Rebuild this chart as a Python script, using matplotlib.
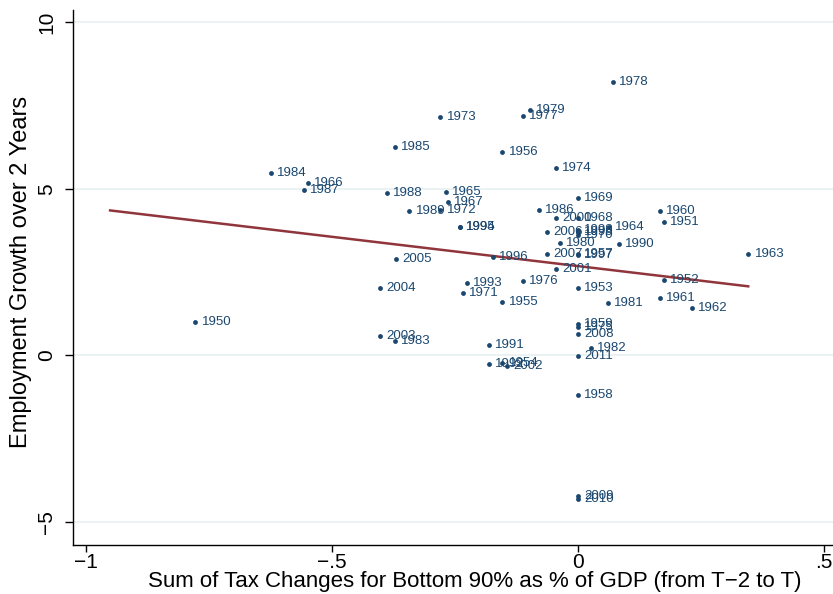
import matplotlib
matplotlib.use("Agg")
import matplotlib.pyplot as plt

# ----- data -----
years = [1950, 1951, 1952, 1953, 1954, 1955, 1956, 1957, 1958, 1959,
         1960, 1961, 1962, 1963, 1964, 1965, 1966, 1967, 1968, 1969,
         1970, 1971, 1972, 1973, 1974, 1975, 1976, 1977, 1978, 1979,
         1980, 1981, 1982, 1983, 1984, 1985, 1986, 1987, 1988, 1989,
         1990, 1991, 1992, 1993, 1994, 1995, 1996, 1997, 1998, 1999,
         2000, 2001, 2002, 2003, 2004, 2005, 2006, 2007, 2008, 2009,
         2010, 2011]

tax_change = [-0.778, 0.175, 0.175, 0.0, -0.154, -0.154, -0.154, 0.0, 0.0, 0.0,
              0.167, 0.167, 0.232, 0.346, 0.063, -0.268, -0.549, -0.264, 0.0, 0.0,
              0.0, -0.234, -0.280, -0.280, -0.045, 0.0, -0.112, -0.112, 0.071, -0.098,
              -0.037, 0.061, 0.026, -0.372, -0.624, -0.372, -0.079, -0.557, -0.388, -0.343,
              0.083, -0.181, -0.181, -0.226, -0.240, -0.240, -0.173, 0.0, 0.0, 0.0,
              -0.045, -0.045, -0.144, -0.402, -0.402, -0.370, -0.063, -0.063, 0.0, 0.0,
              0.0, 0.0]

emp_growth = [0.99, 4.00, 2.25, 2.01, -0.24, 1.59, 6.10, 3.05, -1.20, 0.93,
              4.32, 1.71, 1.41, 3.03, 3.84, 4.89, 5.17, 4.59, 4.11, 4.71,
              3.60, 1.86, 4.35, 7.15, 5.62, 0.85, 2.22, 7.18, 8.20, 7.36,
              3.36, 1.56, 0.21, 0.42, 5.47, 6.25, 4.35, 4.95, 4.86, 4.32,
              3.33, 0.30, -0.27, 2.16, 3.86, 3.84, 2.94, 3.00, 3.76, 3.70,
              4.11, 2.58, -0.33, 0.57, 2.01, 2.88, 3.69, 3.03, 0.63, -4.23,
              -4.32, -0.03]

# fitted line end points
fit_x = [-0.951, 0.346]
fit_y = [4.35, 2.07]

x_ticks = [-1, -0.5, 0, 0.5]
x_tick_labels = ["\u22121", "\u2212.5", "0", ".5"]
y_ticks = [-5, 0, 5, 10]
y_tick_labels = ["\u22125", "0", "5", "10"]

NAVY = "#1a476f"
MAROON = "#90353b"
GRID = "#eaf2f3"

plt.rcParams["font.family"] = ["Liberation Sans", "DejaVu Sans"]

fig = plt.figure(figsize=(8.33, 5.94), dpi=100)
ax = fig.add_axes([73 / 833, 49 / 594, 760 / 833, 535 / 594])

for yv in y_ticks:
    ax.axhline(yv, color=GRID, lw=1.4, zorder=0)

ax.scatter(tax_change, emp_growth, s=12, color=NAVY, zorder=3, linewidths=0)
for yr, xv, yv in zip(years, tax_change, emp_growth):
    ax.annotate(str(yr), (xv, yv), xytext=(4.5, 0), textcoords="offset points",
                ha="left", va="center", fontsize=9.5, color=NAVY, zorder=3)

ax.plot(fit_x, fit_y, color=MAROON, lw=1.8, zorder=2)

ax.set_xlim(-1.0264, 0.5183)
ax.set_ylim(-5.70, 10.37)
ax.set_xticks(x_ticks)
ax.set_xticklabels(x_tick_labels, fontsize=15)
ax.set_yticks(y_ticks)
ax.set_yticklabels(y_tick_labels, fontsize=15, rotation=90, va="center")
ax.tick_params(axis="both", direction="out", length=5, width=1, color="black")
ax.tick_params(axis="x", pad=1)
ax.tick_params(axis="y", length=6, pad=6)

for side in ["top", "right"]:
    ax.spines[side].set_visible(False)
for side in ["left", "bottom"]:
    ax.spines[side].set_linewidth(1.0)

ax.set_xlabel("Sum of Tax Changes for Bottom 90% as % of GDP (from T\u22122 to T)",
              fontsize=16, va="center")
ax.xaxis.set_label_coords(0.529, -0.069)
ax.set_ylabel("Employment Growth over 2 Years", fontsize=17, va="center")
ax.yaxis.set_label_coords(-0.068, 0.511)

fig.savefig("out.png", dpi=100)
